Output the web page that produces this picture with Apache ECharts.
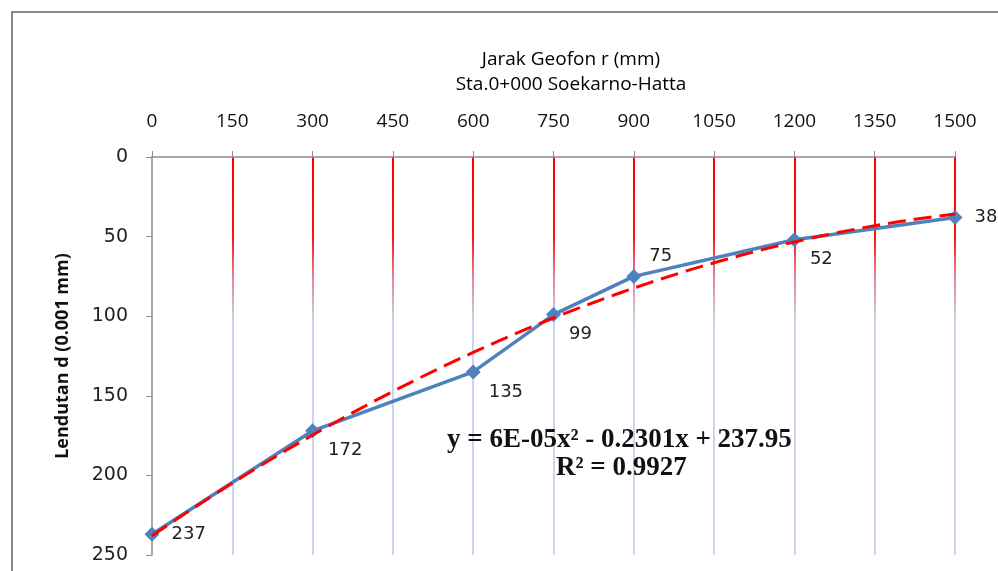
<!DOCTYPE html>
<html>
<head>
<meta charset="utf-8">
<script src="https://cdn.jsdelivr.net/npm/echarts@6/dist/echarts.min.js"></script>
<style>html,body{margin:0;padding:0;background:#fff}#c{width:998px;height:571px}</style>
</head>
<body>
<div id="c"></div>
<script>
// Data
var distances = [0, 300, 600, 750, 900, 1200, 1500];           // Jarak Geofon r (mm)
var deflections = [237, 172, 135, 99, 75, 52, 38];               // Lendutan d (0.001 mm)
var labelPlacement = ['right', 'below', 'below', 'below', 'above', 'below', 'right'];
var equationText = 'y = 6E-05x\u00B2 - 0.2301x + 237.95';
var r2Text = 'R\u00B2 = 0.9927';

// Least-squares quadratic trendline (as Excel's polynomial trendline) from the data
function quadFit(xs, ys) {
  var n = xs.length, s = [0,0,0,0,0], t = [0,0,0];
  for (var i = 0; i < n; i++) {
    var x = xs[i], y = ys[i], p = 1;
    for (var k = 0; k < 5; k++) { s[k] += p; if (k < 3) t[k] += p * y; p *= x; }
  }
  var A = [[s[0], s[1], s[2], t[0]], [s[1], s[2], s[3], t[1]], [s[2], s[3], s[4], t[2]]];
  for (var c = 0; c < 3; c++) {
    for (var r = c + 1; r < 3; r++) {
      var f = A[r][c] / A[c][c];
      for (var k2 = c; k2 < 4; k2++) A[r][k2] -= f * A[c][k2];
    }
  }
  var sol = [0,0,0];
  for (var r2 = 2; r2 >= 0; r2--) {
    var v = A[r2][3];
    for (var k3 = r2 + 1; k3 < 3; k3++) v -= A[r2][k3] * sol[k3];
    sol[r2] = v / A[r2][r2];
  }
  return sol; // c0, c1, c2
}
var coef = quadFit(distances, deflections);
var trend = [];
var xMin = distances[0], xMax = distances[distances.length - 1];
for (var i = 0; i <= 60; i++) {
  var x = xMin + (xMax - xMin) * i / 60;
  trend.push([x, coef[0] + coef[1] * x + coef[2] * x * x]);
}

var mainData = distances.map(function (d, i) {
  var pl = labelPlacement[i];
  var lbl = {};
  if (pl === 'right') { lbl = { position: 'right', distance: 12 }; }
  else if (pl === 'below') { lbl = { position: 'right', distance: 8, offset: [0, 20] }; }
  else { lbl = { position: 'right', distance: 8, offset: [0, -20] }; }
  return { value: [d, deflections[i]], label: lbl };
});

var chart = echarts.init(document.getElementById('c'));
var numFont = 'DejaVu Sans, Verdana, sans-serif';
var narrow = "'Open Sans', sans-serif";
var serif = "'Liberation Serif', 'Times New Roman', serif";
chart.setOption({
  animation: false,
  backgroundColor: '#fff',
  title: {
    text: 'Jarak Geofon r (mm)\nSta.0+000 Soekarno-Hatta',
    left: 566, top: 42, textAlign: 'center',
    textStyle: { fontFamily: narrow, fontSize: 19, fontWeight: 500, color: '#000', lineHeight: 25 }
  },
  grid: { left: 152, top: 157, right: 43, bottom: 16 },
  xAxis: {
    type: 'value', position: 'top', min: 0, max: 1500, interval: 150,
    axisLine: { show: true, lineStyle: { color: '#8c8c8c', width: 1.5 } },
    axisTick: { show: true, inside: false, length: 6, lineStyle: { color: '#8c8c8c' } },
    axisLabel: { margin: 26, fontFamily: narrow, fontSize: 19, color: '#111', formatter: function (v) { return String(v); } },
    splitLine: {
      show: true, showMinLine: false,
      lineStyle: {
        width: 2,
        color: new echarts.graphic.LinearGradient(0, 0, 0, 1, [
          { offset: 0, color: '#ff0000' },
          { offset: 0.2, color: '#ff1010' },
          { offset: 0.31, color: '#e08aa2' },
          { offset: 0.42, color: '#c9d6ee' },
          { offset: 1, color: '#c9d6ee' }
        ])
      }
    }
  },
  yAxis: {
    type: 'value', inverse: true, min: 0, max: 250, interval: 50,
    name: 'Lendutan d (0.001 mm)', nameLocation: 'middle', nameGap: 80, nameRotate: 90,
    nameTextStyle: { fontFamily: narrow, fontSize: 18, fontWeight: 'bold', color: '#111' },
    axisLine: { show: true, lineStyle: { color: '#8c8c8c', width: 1.5 } },
    axisTick: { show: true, inside: false, length: 6, lineStyle: { color: '#8c8c8c' } },
    axisLabel: { margin: 24, fontFamily: numFont, fontSize: 19, color: '#222' },
    splitLine: { show: false }
  },
  graphic: [
    { type: 'rect', shape: { x: 12, y: 12, width: 1100, height: 700 }, style: { fill: 'none', stroke: '#8a8a8a', lineWidth: 2 }, silent: true, z: 100 },
    { type: 'text', left: 447, top: 427, style: { text: equationText, fontFamily: serif, fontSize: 27, fontWeight: 'bold', fill: '#111' }, z: 100 },
    { type: 'text', left: 556, top: 455, style: { text: r2Text, fontFamily: serif, fontSize: 27, fontWeight: 'bold', fill: '#111' }, z: 100 }
  ],
  series: [
    {
      type: 'line', data: mainData, symbol: 'diamond', symbolSize: 15,
      lineStyle: { color: '#4f81bd', width: 3.5 },
      itemStyle: { color: '#4f81bd' },
      label: { show: true, formatter: function (p) { return p.value[1]; }, fontFamily: numFont, fontSize: 18, color: '#222' },
      z: 3
    },
    {
      type: 'line', data: trend, symbol: 'none', smooth: false,
      lineStyle: { color: '#ff0000', width: 3, type: [18, 8] },
      z: 4
    }
  ]
});
</script>
</body>
</html>
